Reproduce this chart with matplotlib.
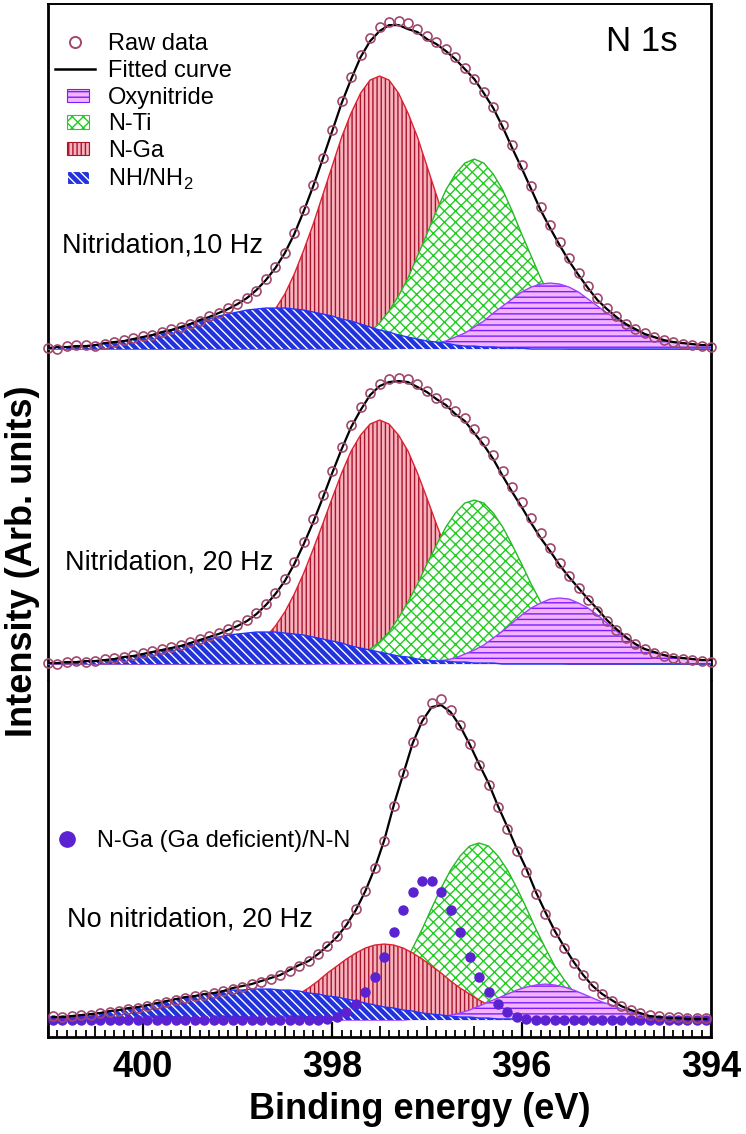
import matplotlib
matplotlib.use("Agg")
import matplotlib.pyplot as plt
import matplotlib.patches as mpatches
from matplotlib.lines import Line2D
from matplotlib.legend_handler import HandlerPatch
from matplotlib.ticker import MultipleLocator
import numpy as np

plt.rcParams["font.family"] = ["Liberation Sans", "DejaVu Sans"]
plt.rcParams["mathtext.fontset"] = "custom"
plt.rcParams["mathtext.rm"] = "Liberation Sans"
plt.rcParams["hatch.linewidth"] = 1.0

# binding energy channels (eV)
energy = np.round(np.linspace(401.0, 394.0, 71), 2)
energy_b = np.round(np.linspace(400.95, 394.05, 70), 2)

# --- Nitridation, 10 Hz (arb. units) ---
raw_10hz = [1, 0, 3, 4, 4, 3, 5, 7, 9, 11, 13, 14, 17, 20, 22, 25, 28, 33, 36, 41,
            45, 51, 58, 70, 82, 96, 116, 139, 164, 191, 219, 248, 272, 294, 311, 322, 327, 328, 326, 320,
            313, 307, 300, 292, 281, 270, 257, 242, 224, 204, 184, 163, 142, 124, 107, 91, 76, 63, 51, 41,
            33, 25, 20, 16, 12, 9, 7, 5, 4, 3, 2]
nh_10hz = [1, 2, 2, 3, 3, 4, 6, 7, 8, 10, 12, 14, 17, 19, 22, 25, 28, 30, 33, 35,
           37, 39, 40, 41, 41, 41, 40, 39, 37, 35, 33, 30, 28, 25, 22, 19, 17, 14, 12, 10,
           8, 7, 6, 4, 3, 3, 2, 2, 1, 1, 1] + [0] * 20
nga_10hz = [0] * 16 + [1, 2, 3, 5, 8, 12, 19, 28, 40, 55, 75, 99, 125, 154, 183, 212, 236, 256, 269,
                       273, 269, 256, 236, 212, 183, 154, 125, 99, 75, 55, 40, 28, 19, 12, 8, 5, 3, 2, 1] + [0] * 16
nti_10hz = [0] * 28 + [1, 1, 2, 4, 6, 11, 17, 26, 38, 53, 71, 93, 115, 138, 159, 175, 186, 190,
                       186, 175, 159, 138, 115, 93, 71, 53, 38, 26, 17, 11, 6, 4, 2, 1, 1] + [0] * 8
oxy_10hz = [0] * 37 + [1, 1, 2, 4, 6, 8, 12, 16, 22, 28, 36, 43, 50, 57, 62, 65, 66, 65, 62, 57,
                       50, 43, 36, 30, 24, 19, 15, 12, 9, 7, 6, 5, 4, 4]

# --- Nitridation, 20 Hz ---
raw_20hz = [1, 0, 2, 3, 2, 3, 5, 6, 7, 9, 11, 13, 15, 17, 19, 22, 25, 28, 31, 35,
            39, 44, 51, 60, 71, 85, 102, 122, 145, 169, 193, 217, 239, 257, 271, 280, 285, 286, 285, 280,
            273, 266, 261, 253, 246, 235, 223, 209, 193, 177, 162, 146, 131, 116, 101, 88, 76, 64, 53, 43,
            34, 26, 20, 15, 11, 8, 6, 5, 4, 3, 2]
nh_20hz = [1, 1, 2, 2, 3, 3, 4, 5, 7, 8, 10, 12, 14, 16, 18, 21, 23, 25, 27, 29,
           30, 31, 32, 32, 32, 31, 30, 29, 27, 25, 23, 21, 18, 16, 14, 12, 10, 8, 7, 5,
           4, 3, 3, 2, 2, 1, 1, 1] + [0] * 23
nga_20hz = [0] * 16 + [1, 2, 3, 5, 8, 12, 18, 27, 38, 52, 70, 91, 115, 140, 166, 191, 213, 229, 240,
                       244, 240, 229, 213, 191, 166, 140, 115, 91, 70, 52, 38, 27, 18, 12, 8, 5, 3, 2, 1] + [0] * 16
nti_20hz = [0] * 29 + [1, 2, 3, 6, 9, 15, 22, 32, 46, 62, 80, 100, 119, 137, 151, 161, 164,
                       161, 151, 137, 119, 100, 80, 62, 46, 32, 22, 15, 9, 6, 3, 2, 1] + [0] * 9
oxy_20hz = [0] * 39 + [1, 2, 3, 4, 6, 10, 14, 19, 26, 33, 41, 49, 56, 61, 65, 66, 65, 61, 56, 49,
                       41, 33, 26, 20, 15, 12, 9, 7, 6, 5, 4, 4]

# --- No nitridation, 20 Hz ---
raw_non = [4, 3, 4, 5, 5, 7, 8, 9, 11, 12, 14, 16, 18, 20, 22, 24, 25, 27, 29, 31,
           33, 36, 38, 41, 45, 49, 54, 59, 66, 74, 84, 96, 111, 129, 152, 179, 214, 247, 278, 300,
           317, 321, 310, 295, 276, 255, 235, 213, 191, 169, 148, 126, 106, 88, 72, 57, 45, 34, 26, 19,
           14, 10, 7, 5, 4, 3, 3, 2, 2, 2]
nh_non = [3, 3, 4, 5, 6, 7, 9, 10, 12, 13, 15, 17, 19, 21, 23, 24, 26, 27, 29, 30,
          30, 31, 31, 31, 30, 30, 29, 27, 26, 24, 23, 21, 19, 17, 15, 13, 12, 10, 9, 7,
          6, 5, 4, 3, 3, 2, 2, 1, 1, 1, 1] + [0] * 19
nga_non = [0] * 19 + [2, 4, 5, 8, 11, 15, 20, 26, 32, 39, 47, 54, 61, 67, 72, 75, 76,
                      75, 72, 67, 61, 54, 47, 39, 32, 26, 20, 15, 11, 8, 5, 4, 2] + [0] * 18
nti_non = [0] * 28 + [1, 2, 3, 5, 8, 12, 19, 28, 40, 54, 72, 91, 112, 132, 150, 164, 174, 177,
                      174, 164, 150, 132, 112, 91, 72, 54, 40, 28, 19, 12, 8, 5, 3, 2, 1] + [0] * 7
oxy_non = [0] * 38 + [1, 1, 2, 3, 5, 7, 10, 14, 18, 22, 26, 30, 33, 35, 36, 35, 33, 30, 26, 22,
                      18, 15, 11, 8, 6, 4, 3, 2, 2, 1, 1, 1]
ngadef_non = [0] * 29 + [1, 3, 8, 16, 28, 43, 63, 88, 110, 128, 139, 139, 128, 110, 88,
                         63, 43, 28, 16, 8, 3, 1] + [0] * 19

# face, hatch colour, hatch, outline
STYLE = {
    "oxy": ("#f2b4ff", "#7d1cff", "---", "#a040ff"),
    "nti": ("white", "#22cc22", "xxx", "#22bb22"),
    "nga": ("#f7b3bd", "#a8142c", "||||", "#e02030"),
    "nh": ("#2233dd", "white", "\\\\\\\\", "#2233ff"),
}
RAW_COL = "#a0486e"
DOT_COL = "#5a22d0"


def draw_comp(ax, x, base, vals, key, z):
    face, hcol, hatch, line = STYLE[key]
    y = base + np.asarray(vals, dtype=float)
    ax.fill_between(x, base, y, facecolor=face, edgecolor=hcol, hatch=hatch,
                    linewidth=0, zorder=z)
    ax.plot(x, y, color=line, lw=1.0, zorder=z)


def draw_spectrum(ax, x, base, raw, comps, order):
    for z, key in enumerate(order):
        draw_comp(ax, x, base, comps[key], key, 2 + z)
    total = base + np.sum([np.asarray(v, dtype=float) for v in comps.values()], axis=0)
    ax.plot(x, total, color="black", lw=1.6, zorder=8)
    ax.plot(x, base + np.asarray(raw, dtype=float), ls="none", marker="o", mfc="none",
            mec=RAW_COL, ms=6.5, mew=1.2, zorder=9, clip_on=False)
    return total


fig = plt.figure(figsize=(7.46, 11.34), dpi=100)
ax_t = fig.add_axes([0.0643, 0.4012, 0.889, 0.5952])
ax_b = fig.add_axes([0.0643, 0.0855, 0.889, 0.3139])

ax_t.set_xlim(401.0, 394.0)
ax_t.set_ylim(0, 675)
ax_b.set_xlim(401.0, 394.0)
ax_b.set_ylim(0, 356)

# top axes: two spectra stacked
draw_spectrum(ax_t, energy, 330, raw_10hz,
              {"nga": nga_10hz, "nti": nti_10hz, "oxy": oxy_10hz, "nh": nh_10hz},
              ["nga", "nti", "oxy", "nh"])
draw_spectrum(ax_t, energy, 15, raw_20hz,
              {"nga": nga_20hz, "nti": nti_20hz, "oxy": oxy_20hz, "nh": nh_20hz},
              ["nga", "nti", "oxy", "nh"])

# bottom axes
base_b = 17
for z, key in enumerate(["nti", "nga", "oxy", "nh"]):
    draw_comp(ax_b, energy_b, base_b, {"nti": nti_non, "nga": nga_non,
                                       "oxy": oxy_non, "nh": nh_non}[key], key, 2 + z)
dots, = ax_b.plot(energy_b, base_b + np.asarray(ngadef_non, dtype=float), ls="none",
                  marker="o", color=DOT_COL, ms=6.5, zorder=7, clip_on=False)
total_b = base_b + np.sum([np.asarray(v, dtype=float) for v in
                           (nti_non, nga_non, oxy_non, nh_non, ngadef_non)], axis=0)
ax_b.plot(energy_b, total_b, color="black", lw=1.6, zorder=8)
ax_b.plot(energy_b, base_b + np.asarray(raw_non, dtype=float), ls="none", marker="o",
          mfc="none", mec=RAW_COL, ms=6.5, mew=1.2, zorder=9, clip_on=False)

# spines / ticks
for ax in (ax_t, ax_b):
    for s in ("left", "right"):
        ax.spines[s].set_linewidth(2.0)
    ax.set_yticks([])
ax_t.spines["bottom"].set_visible(False)
ax_t.spines["top"].set_linewidth(1.4)
ax_t.set_xticks([])
ax_b.spines["top"].set_visible(False)
ax_b.spines["bottom"].set_linewidth(2.0)

ax_b.set_xticks([400, 398, 396, 394], labels=["400", "398", "396", "394"],
                fontsize=26, fontweight="bold")
ax_b.xaxis.set_minor_locator(MultipleLocator(0.1))
ax_b.tick_params(axis="x", which="major", direction="in", length=11, width=1.6, pad=9)
ax_b.tick_params(axis="x", which="minor", direction="in", length=5, width=1.3)
minor_locs = ax_b.xaxis.get_minorticklocs()
for loc, tick in zip(minor_locs, ax_b.xaxis.get_minor_ticks(len(minor_locs))):
    if abs(loc * 2 - round(loc * 2)) < 1e-6:
        tick.tick1line.set_markersize(8)

ax_b.set_xlabel("Binding energy (eV)", fontsize=26, fontweight="bold")
ax_b.xaxis.set_label_coords(0.56, -0.155)
fig.text(0.0295, 0.505, "Intensity (Arb. units)", rotation=90, ha="center", va="center",
         fontsize=26, fontweight="bold")

# legends
def small_box(legend, orig_handle, xdescent, ydescent, width, height, fontsize):
    return mpatches.Rectangle((0.3 * width - xdescent, -ydescent + 0.1 * height),
                              0.55 * width, 0.8 * height)


h_raw = Line2D([], [], ls="none", marker="o", mfc="none", mec=RAW_COL, ms=8, mew=1.4)
h_fit = Line2D([], [], color="black", lw=1.8)
handles = [h_raw, h_fit]
for key in ("oxy", "nti", "nga", "nh"):
    face, hcol, hatch, line = STYLE[key]
    handles.append(mpatches.Patch(facecolor=face, edgecolor=hcol, hatch=hatch, lw=0.8))
labels = ["Raw data", "Fitted curve", "Oxynitride", "N-Ti", "N-Ga", r"NH/NH$_\mathrm{2}$"]
ax_t.legend(handles, labels, loc="upper left", bbox_to_anchor=(0.0106, 0.957),
            frameon=False, fontsize=17, handlelength=1.7, handletextpad=0.55,
            labelspacing=0.2, borderpad=0, borderaxespad=0,
            handler_map={mpatches.Patch: HandlerPatch(patch_func=small_box)})

h_dot = Line2D([], [], ls="none", marker="o", color=DOT_COL, ms=11)
ax_b.legend([h_dot], ["N-Ga (Ga deficient)/N-N"], loc="upper left",
            bbox_to_anchor=(0.0106, 0.582), frameon=False, fontsize=17,
            handlelength=1.0, handletextpad=0.78, borderpad=0, borderaxespad=0)

# annotations
ax_t.text(0.021, 0.643, "Nitridation,10 Hz", transform=ax_t.transAxes, fontsize=19.5,
          va="center", ha="left")
ax_t.text(0.026, 0.172, "Nitridation, 20 Hz", transform=ax_t.transAxes, fontsize=19.5,
          va="center", ha="left")
ax_t.text(0.950, 0.944, "N 1s", transform=ax_t.transAxes, fontsize=25,
          va="center", ha="right")
ax_b.text(0.029, 0.329, "No nitridation, 20 Hz", transform=ax_b.transAxes, fontsize=19.5,
          va="center", ha="left")

fig.savefig("out.png", dpi=100)
